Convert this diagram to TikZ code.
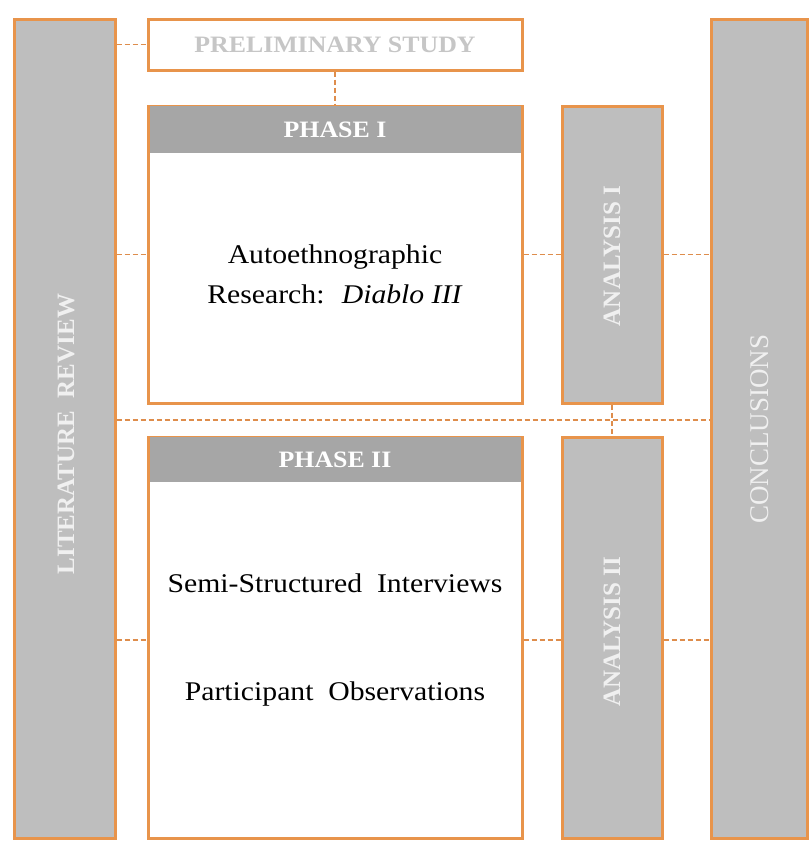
\documentclass[tikz,border=0pt]{standalone}
\usepackage{fontspec}
\usepackage{xcolor}
\setmainfont[FakeStretch=1.1]{Liberation Serif}
\newfontfamily\uprightfont{Liberation Serif}

\definecolor{frameorange}{HTML}{E8944B}
\definecolor{linkorange}{HTML}{DE8D4C}
\definecolor{sidegray}{HTML}{BEBEBE}
\definecolor{headgray}{HTML}{A6A6A6}
\definecolor{labelgray}{HTML}{C6C6C6}

\begin{document}
\begin{tikzpicture}[x=1pt, y=-1pt,
    column/.style={draw=frameorange, fill=sidegray, line width=3pt, inner sep=0pt},
    phasebox/.style={draw=frameorange, fill=white, line width=3pt, minimum width=374pt, inner sep=0pt},
    header/.style={fill=headgray, minimum width=371pt, inner sep=0pt, text=white, font=\fontsize{23.5}{28}\selectfont\bfseries},
    sidelabel/.style={rotate=90, text=white!94!black, font=\uprightfont\fontsize{25}{30}\selectfont\bfseries},
    body/.style={align=center, font=\fontsize{27}{40}\selectfont},
    link/.style={draw=linkorange, line width=1.8pt, dash pattern=on 5pt off 3pt}]
    \useasboundingbox (0,0) rectangle (809,841);

    % side columns
    \node[column, minimum width=101pt, minimum height=819pt] (lit) at (64.5,428.5) {};
    \node[sidelabel] (littext) at (66,434) {LITERATURE~ REVIEW};
    \node[column, minimum width=96pt, minimum height=819pt] (concl) at (759,428.5) {};
    \node[sidelabel, font=\uprightfont\fontsize{27}{30}\selectfont] (concltext) at (760,429) {CONCLUSIONS};

    % preliminary study
    \node[phasebox, minimum height=51pt, text=labelgray, font=\fontsize{23.5}{28}\selectfont\bfseries] (prelim) at (335,44.5) {PRELIMINARY STUDY};

    % phase I
    \node[phasebox, minimum height=297pt] (phaseI) at (335,254.5) {};
    \node[header, minimum height=47pt] (phaseIhead) at (335,129.5) {PHASE I};
    \node[body] (phaseItext) at (335,274) {Autoethnographic\\Research:~ \textit{Diablo III}};
    \node[column, minimum width=100pt, minimum height=297pt] (anaI) at (612,254.5) {};
    \node[sidelabel] (anaItext) at (612,256) {ANALYSIS I};

    % phase II
    \node[phasebox, minimum height=401pt] (phaseII) at (335,637.5) {};
    \node[header, minimum height=45pt] (phaseIIhead) at (335,459.5) {PHASE II};
    \node[body] (phaseIItop) at (335,583) {Semi-Structured~ Interviews};
    \node[body] (phaseIIbottom) at (335,694) {Participant~ Observations};
    \node[column, minimum width=100pt, minimum height=401pt] (anaII) at (612,637.5) {};
    \node[sidelabel] (anaIItext) at (612,632) {ANALYSIS II};

    % dashed links
    \coordinate (midrow) at (0,420);
    \coordinate (lowrow) at (0,640);
    \draw[link] (lit.east |- prelim) -- (prelim.west);
    \draw[link] (prelim.south) -- (phaseI.north);
    \draw[link] (lit.east |- anaI) -- (phaseI.west |- anaI);
    \draw[link] (phaseI.east |- anaI) -- (anaI.west);
    \draw[link] (anaI.east) -- (concl.west |- anaI);
    \draw[link] (lit.east |- midrow) -- (concl.west |- midrow);
    \draw[link] (anaI.south) -- (anaII.north);
    \draw[link] (lit.east |- lowrow) -- (phaseII.west |- lowrow);
    \draw[link] (phaseII.east |- lowrow) -- (anaII.west |- lowrow);
    \draw[link] (anaII.east |- lowrow) -- (concl.west |- lowrow);
\end{tikzpicture}
\end{document}
